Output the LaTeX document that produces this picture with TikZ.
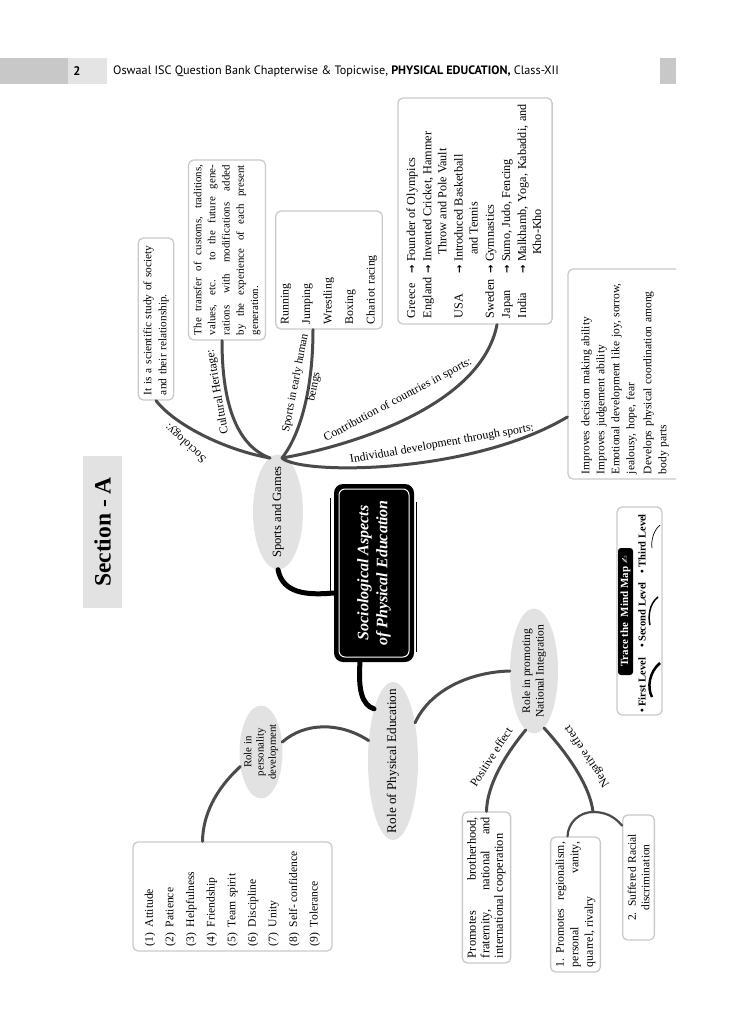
\documentclass[tikz,border=0pt]{standalone}
\usepackage{fontspec}
\setmainfont{Liberation Serif}
\newfontfamily\hdrfont{PT Sans}
\newfontfamily\symfont{DejaVu Sans}
\usetikzlibrary{shapes.geometric,calc}
\definecolor{linecol}{HTML}{4A4A4A}
\definecolor{ellfill}{HTML}{E2E2E2}
\definecolor{boxedge}{HTML}{CACACA}
\definecolor{hdrdark}{HTML}{C8C8C8}
\definecolor{hdrlight}{HTML}{E4E4E4}
\newcommand{\arr}{{\symfont\bfseries\fontsize{10}{10}\selectfont →}}
\newcommand{\itm}[2]{\makebox[19pt][l]{(#1)}#2}
\begin{document}
\begin{tikzpicture}[x=1pt,y=-1pt,
  box/.style={draw=boxedge, line width=1.3pt, fill=white, rounded corners=5pt, rotate=90, inner sep=5pt},
  ellshape/.style={ellipse, fill=ellfill, inner sep=0pt},
  elltext/.style={rotate=90, align=center, inner sep=0pt},
  conn/.style={draw=linecol, line width=3pt, line cap=round},
  thinconn/.style={draw=linecol, line width=2.2pt, line cap=round},
  blk/.style={draw=black, line width=5pt, line cap=round},
  lbl/.style={font=\fontsize{11.8}{14}\selectfont, inner sep=1pt},
  lvl/.style={rotate=90, anchor=west, font=\fontsize{10.5}{12}\selectfont\bfseries, inner sep=0pt},
]
\useasboundingbox (0,0) rectangle (745,1024);

% header
\fill[hdrdark] (0,58) rectangle (68,84);
\fill[hdrlight] (68,58) rectangle (107,84);
\fill[hdrdark] (660,58) rectangle (676,84);
\node[font=\hdrfont\bfseries\fontsize{12.5}{14}\selectfont] (pgno) at (77,71) {2};
\node[anchor=west, font=\hdrfont\fontsize{12.2}{14}\selectfont, inner sep=0pt] (hdr) at (113,71) {Oswaal ISC Question Bank Chapterwise \& Topicwise, \textbf{PHYSICAL EDUCATION,} Class-XII};

% section label
\node[fill=ellfill, minimum width=152, minimum height=39, rotate=90, font=\fontsize{23.5}{26}\selectfont\bfseries] (sec) at (102.5,532) {Section - A};

% central node
\node[fill=black, rounded corners=9pt, minimum width=178, minimum height=80, rotate=90] (core) at (374,573) {};
\draw[white, line width=1pt, rounded corners=6pt] (339,489) rectangle (409,657);
\draw[black, line width=1pt] (330,498) -- (330,592);
\draw[black, line width=1pt] (416,502) -- (416,652);
\node[rotate=90, text=white, align=center, font=\fontsize{16}{19}\selectfont\bfseries\itshape] (title) at (core) {Sociological Aspects\\of Physical Education};

% ellipses
\node[ellshape, minimum width=50, minimum height=115] (sg) at (278,512) {};
\node[elltext, font=\fontsize{12.6}{15}\selectfont] (sgtext) at (sg) {Sports and Games};
\node[ellshape, minimum width=50, minimum height=158] (rpe) at (393,761) {};
\node[elltext, font=\fontsize{13.2}{16}\selectfont] (rpetext) at (rpe) {Role of Physical Education};
\node[ellshape, minimum width=43, minimum height=93] (pers) at (261,752) {};
\node[elltext, font=\fontsize{10.8}{12.3}\selectfont] (perstext) at (pers) {Role in\\personality\\development};
\node[ellshape, minimum width=48, minimum height=125] (nat) at (534,671) {};
\node[elltext, font=\fontsize{11.5}{13.5}\selectfont] (nattext) at (nat) {Role in promoting\\National Integration};

% boxes
\node[box, text width=152, align=left, font=\fontsize{11.3}{15}\selectfont] (soc) at (156,319) {It is a scientific study of society\\and their relationship.};
\node[box, text width=170, align=justify, font=\fontsize{10.9}{14.2}\selectfont] (cul) at (227,250) {The transfer of customs, traditions,\linebreak values, etc. to the future gene-\linebreak rations with modifications added\linebreak by the experience of each present\linebreak generation.};
\node[box, text width=108, align=left, font=\fontsize{11.8}{21.5}\selectfont] (early) at (329,270) {Running\\Jumping\\Wrestling\\Boxing\\Chariot racing};
\node[box, inner sep=6pt, font=\fontsize{12.2}{15}\selectfont] (ctry) at (475,211) {\renewcommand{\arraystretch}{1.08}%
\begin{tabular}{@{}l@{\hspace{4pt}}c@{\hspace{3pt}}p{158pt}@{}}
Greece & \arr & Founder of Olympics\\
England & \arr & Invented Cricket, Hammer\newline\hspace*{7pt}Throw and Pole Vault\\
USA & \arr & Introduced Basketball\newline\hspace*{7pt}and Tennis\\
Sweden & \arr & Gymnastics\\
Japan & \arr & Sumo, Judo, Fencing\\
India & \arr & Malkhamb, Yoga, Kabaddi, and\linebreak\hspace*{7pt}Kho-Kho
\end{tabular}};
\begin{scope}
\clip (0,0) rectangle (676,1024);
\node[box, text width=200, align=left, minimum height=114, font=\fontsize{11.5}{15}\selectfont] (indiv) at (625,374) {Improves decision making ability\\Improves judgement ability\\Emotional development like joy, sorrow,\\jealousy, hope, fear\\[2pt]Develops physical coordination among\\body parts};
\end{scope}
\node[box, text width=99, align=left, minimum height=199, font=\fontsize{11.6}{20.6}\selectfont] (list) at (232.5,896.5) {\hyphenpenalty=10000 \itm{1}{Attitude}\\\itm{2}{Patience}\\\itm{3}{Helpfulness}\\\itm{4}{Friendship}\\\itm{5}{Team spirit}\\\itm{6}{Discipline}\\\itm{7}{Unity}\\\itm{8}{Self-\,confidence}\\\itm{9}{Tolerance}};
\node[box, text width=141, align=justify, font=\fontsize{12.4}{13.5}\selectfont] (pos) at (486.5,887.5) {Promotes brotherhood,\linebreak fraternity, national and\linebreak international cooperation};
\node[box, text width=125, align=justify, font=\fontsize{11.8}{14.5}\selectfont] (neg1) at (575.5,904.5) {\hangindent=14pt\hangafter=1\makebox[14pt][l]{1.}Promotes regionalism,\linebreak personal vanity,\linebreak quarrel, rivalry};
\node[box, text width=112, align=center, minimum width=125, font=\fontsize{11.5}{13.5}\selectfont] (neg2) at (638.5,877.5) {2. Suffered Racial\\discrimination};

% legend
\node[box, minimum width=208, minimum height=45, inner sep=0pt] (legend) at (639.5,611) {};
\node[fill=black, text=white, rotate=90, rounded corners=3pt, inner sep=1pt, minimum height=15, minimum width=127, font=\fontsize{11}{12}\selectfont\bfseries] (tracelbl) at (625.5,611.5) {Trace the \ Mind Map {\symfont\fontsize{9}{9}\selectfont ✍}};
\node[lvl] (lv1) at (642,713) {• First Level};
\node[lvl] (lv2) at (642,648) {• Second Level};
\node[lvl] (lv3) at (642,574) {• Third Level};
\draw[black, line width=2.5pt] (660,663) .. controls (649,672) and (647,688) .. (652,697);
\draw[black, line width=1.5pt] (658,597) .. controls (649,604) and (648,617) .. (650,625);
\draw[black, line width=0.7pt] (660,525) .. controls (653,531) and (651,541) .. (652,548);

% connectors
\coordinate (hubl) at (270,458);
\coordinate (hubr) at (282,458);
\draw[conn] (soc.west) .. controls (175,425) and (225,450) .. (hubl);
\draw[conn] ($(cul.west)+(-5,0)$) .. controls (222,400) and (235,445) .. (hubl);
\draw[conn] ($(early.west)+(-16,0)$) .. controls (313,390) and (300,435) .. (hubr);
\draw[conn] (hubr) .. controls (340,448) and (480,410) .. ($(ctry.west)+(22,0)$);
\draw[conn] (hubr) .. controls (300,475) and (470,475) .. ($(indiv.north)+(0,43)$);
\node[lbl, rotate=138] (socLbl) at (186,443) {Sociology:};
\node[lbl, rotate=100] (culLbl) at (218,392) {Cultural Heritage:};
\node[lbl, rotate=79, align=center, font=\fontsize{11.4}{19}\selectfont] (earlyLbl) at (305,385) {Sports in early human\\beings};
\node[lbl, rotate=28] (ctryLbl) at (398,400) {Contribution of countries in sports:};
\node[lbl, rotate=10] (indivLbl) at (442,444) {Individual development through sports:};

\draw[blk] (sg.south) .. controls (283,595) and (310,595) .. ($(core.north)+(0,20)$);
\draw[blk] ($(core.west)+(-14,0)$) .. controls (358,690) and (362,705) .. (rpe.110);

\draw[conn] (rpe.140) .. controls (340,722) and (305,722) .. (pers.25);
\draw[conn] (pers.215) .. controls (215,790) and (203,815) .. ($(list.east)+(-30,0)$);
\draw[conn] (rpe.60) .. controls (430,690) and (470,672) .. (nat.west);
\draw[conn] (nat.262) .. controls (505,755) and (487,785) .. (pos.east);
\coordinate (split) at (593,812);
\draw[conn] (nat.280) .. controls (566,752) and (590,785) .. (split);
\draw[thinconn] (split) .. controls (580,812) and (568,822) .. ($(neg1.east)+(-8,0)$);
\draw[thinconn] (split) .. controls (605,812) and (614,816) .. ($(neg2.north)+(0,-52)$);
\node[lbl, rotate=57] (posLbl) at (491,757) {Positive effect};
\node[lbl, rotate=124] (negLbl) at (587,756) {Negative effect};
\end{tikzpicture}
\end{document}
